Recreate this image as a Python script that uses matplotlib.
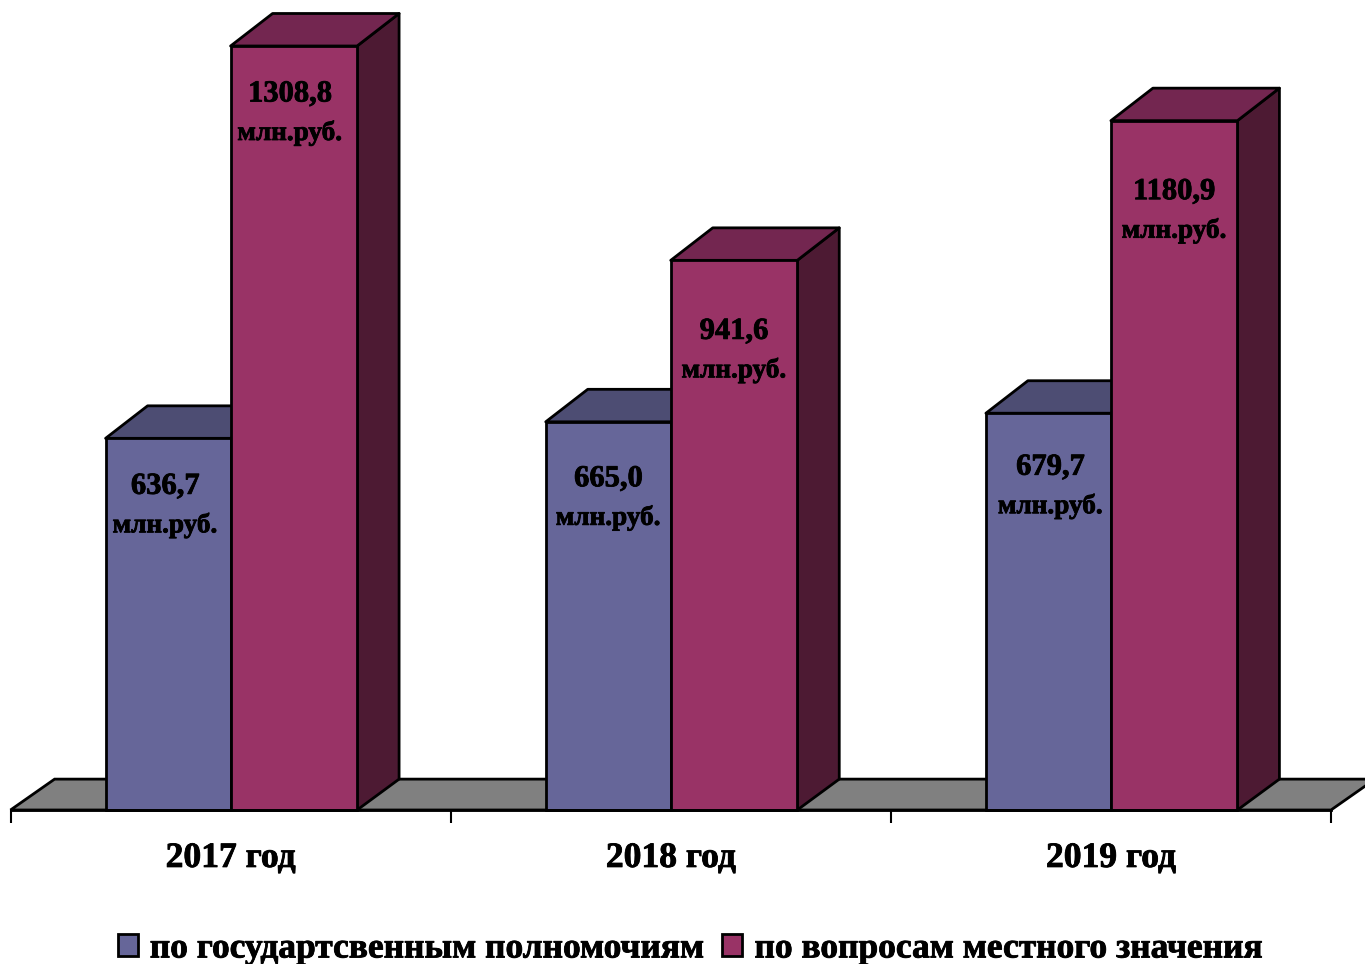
import matplotlib
matplotlib.use("Agg")
import matplotlib.pyplot as plt
from matplotlib.patches import Polygon
import matplotlib.patheffects as pe

plt.rcParams['font.family'] = ['Liberation Serif', 'DejaVu Serif']
plt.rcParams['font.weight'] = 'bold'

categories = ['2017 год', '2018 год', '2019 год']
series_names = ['по государтсвенным полномочиям', 'по вопросам местного значения']
state_powers = [636.7, 665.0, 679.7]
local_issues = [1308.8, 941.6, 1180.9]
value_labels_a = ['636,7', '665,0', '679,7']
value_labels_b = ['1308,8', '941,6', '1180,9']
unit = 'млн.руб.'

W, H = 1365, 964
fig = plt.figure(figsize=(W / 100, H / 100), dpi=100, facecolor='white')
x0, x1, ybase = 10.5, 1331, 810
PX_PER_UNIT = 764 / 1308.8
ytop_px = 0
ax = fig.add_axes([x0 / W, 1 - ybase / H, (x1 - x0) / W, (ybase - ytop_px) / H])
ax.set_xlim(-0.5, 2.5)
ax.set_ylim(0, (ybase - ytop_px) / PX_PER_UNIT)
PX_PER_CAT = (x1 - x0) / 3
ax.patch.set_visible(False)

DX, DY = 42 / PX_PER_CAT, 32.5 / PX_PER_UNIT
LW = 2.0
EDGE = 'black'
BOLDER = [pe.withStroke(linewidth=0.6, foreground='black')]

# floor
fx0, fx1 = -0.5, 2.5
ax.add_patch(Polygon([(fx0, 0), (fx0 + DX * 1.05, DY * 0.95), (fx1 + DX * 1.05, DY * 0.95), (fx1, 0)],
                     closed=True, fc='#808080', ec=EDGE, lw=LW, clip_on=False, zorder=1))

w_a, w_b = 125 / PX_PER_CAT, 126.5 / PX_PER_CAT
cols = [('#666699', '#4d4d73', '#333366'), ('#993366', '#732650', '#4d1a33')]


def box3d(left, width, value, colours, z):
    front, top, side = colours
    right = left + width
    ax.add_patch(Polygon([(right, 0), (right + DX, DY * 0.95), (right + DX, value + DY), (right, value)],
                         closed=True, fc=side, ec=EDGE, lw=LW, clip_on=False, joinstyle='round', zorder=z))
    ax.add_patch(Polygon([(left, value), (left + DX, value + DY), (right + DX, value + DY), (right, value)],
                         closed=True, fc=top, ec=EDGE, lw=LW, clip_on=False, joinstyle='round', zorder=z))


for i in range(3):
    box3d(i - w_a, w_a, state_powers[i], cols[0], 2)
    box3d(i, w_b, local_issues[i], cols[1], 4)

bars_a = ax.bar([i - w_a for i in range(3)], state_powers, w_a, align='edge', color=cols[0][0],
                edgecolor=EDGE, linewidth=LW, zorder=3, label=series_names[0], clip_on=False)
bars_b = ax.bar(range(3), local_issues, w_b, align='edge', color=cols[1][0],
                edgecolor=EDGE, linewidth=LW, zorder=5, label=series_names[1], clip_on=False)

# pixel offsets of data labels from bar top (first-line centre) and from bar centre
off_a = [(48, -3), (57, 0), (54, 2)]
off_b = [(48, -4), (71, 0), (71, 0)]


def label(bar, text, off):
    cx = bar.get_x() + bar.get_width() / 2
    top = bar.get_height()
    down, right = off
    ax.annotate(text, (cx, top), xytext=(right * 0.72, -down * 0.72), textcoords='offset points',
                ha='center', va='center', fontsize=22, fontweight='bold', color='black', zorder=10,
                path_effects=BOLDER)
    ax.annotate(unit, (cx, top), xytext=(right * 0.72, -(down + 39) * 0.72), textcoords='offset points',
                ha='center', va='center', fontsize=19.6, fontweight='bold', color='black', zorder=10,
                path_effects=BOLDER)


for b, t, o in zip(bars_a, value_labels_a, off_a):
    label(b, t, o)
for b, t, o in zip(bars_b, value_labels_b, off_b):
    label(b, t, o)

# axis
for s in ['top', 'left', 'right']:
    ax.spines[s].set_visible(False)
ax.spines['bottom'].set_linewidth(LW)
ax.spines['bottom'].set_zorder(6)
ax.set_yticks([])
ax.set_xticks([-0.5, 0.5, 1.5, 2.5])
ax.set_xticklabels([])
ax.tick_params(axis='x', which='major', length=9, width=1.5, color='black')
ax.set_xticks([0, 1, 2], minor=True)
ax.set_xticklabels(categories, minor=True, fontsize=25.6, fontweight='bold', path_effects=BOLDER)
ax.tick_params(axis='x', which='minor', length=0, pad=23)

leg = fig.legend(handles=[bars_a, bars_b], labels=series_names, loc='center', ncol=2,
                 bbox_to_anchor=(689.5 / W, 1 - 949 / H), frameon=False,
                 prop={'family': 'Liberation Serif', 'weight': 'bold', 'size': 25.5},
                 handlelength=0.565, handleheight=0.565, handletextpad=0.34, columnspacing=0.565,
                 borderpad=0, borderaxespad=0)
for h in leg.legend_handles:
    h.set_linewidth(2)
for t in leg.get_texts():
    t.set_path_effects(BOLDER)

fig.savefig('out.png', dpi=100)
